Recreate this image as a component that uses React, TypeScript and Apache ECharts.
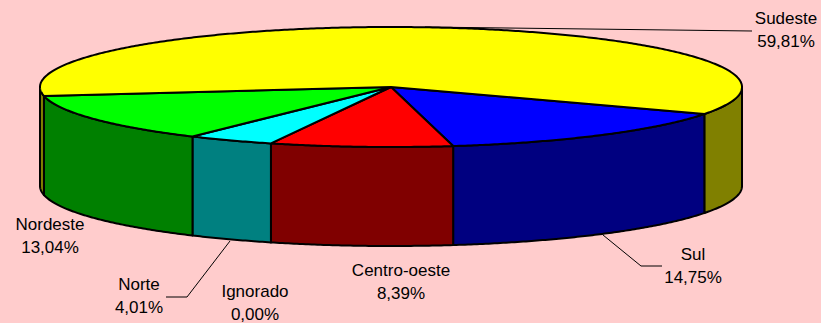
import React, { useEffect, useRef } from "react";
import * as echarts from "echarts";

const categories = ["Sul", "Centro-oeste", "Ignorado", "Norte", "Nordeste", "Sudeste"];
const values = [14.75, 8.39, 0.0, 4.01, 13.04, 59.81];
const topColors = ["#0000FF", "#FF0000", "#FF00FF", "#00FFFF", "#00FF00", "#FFFF00"];
const sideColors = ["#000080", "#800000", "#800080", "#008080", "#008000", "#808000"];

const CX = 391, CY = 87, RX = 351, RY = 60, DEPTH = 99, START = 26.7;
const FONT = "17px 'Liberation Sans', Arial, sans-serif";
const labelPos: [number, number][] = [
  [693, 266], [401, 282], [255, 303], [139, 296], [50, 236], [786, 30],
];
const leaders: [number, number][][] = [
  [[603, 235], [641, 266], [662, 266]],
  [[230, 241], [187, 297], [166, 297]],
  [[425, 27], [752, 31]],
];

const rim = (deg: number, dy = 0): number[] => {
  const t = (deg * Math.PI) / 180;
  return [CX + RX * Math.cos(t), CY + RY * Math.sin(t) + dy];
};
const arc = (a: number, b: number, dy = 0): number[][] => {
  const pts: number[][] = [];
  const n = Math.max(1, Math.ceil(Math.abs(b - a) * 2));
  for (let i = 0; i <= n; i++) pts.push(rim(a + ((b - a) * i) / n, dy));
  return pts;
};
const ranges: [number, number][] = [];
{
  let a = START;
  values.forEach((v) => {
    const b = a + (v / 100) * 360;
    ranges.push([a, b]);
    a = b;
  });
}
// the visible part of the side wall lies on the front half of the ellipse
const frontParts = (a: number, b: number): [number, number][] => {
  const out: [number, number][] = [];
  [[0, 180], [360, 540]].forEach(([lo, hi]) => {
    const s = Math.max(a, lo), e = Math.min(b, hi);
    if (e > s) out.push([s, e]);
  });
  return out;
};

const sideItem = (_p: any, api: any) => {
  const i = api.value(0) as number;
  const children: any[] = [];
  frontParts(ranges[i][0], ranges[i][1]).forEach(([s, e]) => {
    children.push({
      type: "polygon",
      shape: { points: [...arc(s, e), ...arc(e, s, DEPTH)] },
      style: { fill: sideColors[i], stroke: "#000", lineWidth: 2, lineJoin: "round" },
    });
  });
  return { type: "group", children };
};
const topItem = (_p: any, api: any) => {
  const i = api.value(0) as number;
  if (values[i] <= 0) return { type: "group", children: [] };
  return {
    type: "polygon",
    shape: { points: [[CX, CY], ...arc(ranges[i][0], ranges[i][1])] },
    style: { fill: topColors[i], stroke: "#000", lineWidth: 2, lineJoin: "round" },
  };
};

export default function App() {
  const ref = useRef<HTMLDivElement>(null);
  useEffect(() => {
    document.body.style.margin = "0";
    const chart = echarts.init(ref.current!, null, { renderer: "svg" });
    const idx = values.map((_, i) => [i]);
    chart.setOption({
      animation: false,
      backgroundColor: "#FFCCCC",
      series: [
        { type: "custom", coordinateSystem: "none", renderItem: sideItem, data: idx, silent: true, z: 1 },
        { type: "custom", coordinateSystem: "none", renderItem: topItem, data: idx, silent: true, z: 2 },
      ],
      graphic: [
        ...leaders.map((points) => ({
          type: "polyline",
          z: 3,
          shape: { points },
          style: { stroke: "#000", lineWidth: 1, fill: "none" },
        })),
        ...categories.map((c, i) => ({
          type: "text",
          z: 4,
          x: labelPos[i][0],
          y: labelPos[i][1],
          style: {
            text: `${c}\n${values[i].toFixed(2).replace(".", ",")}%`,
            font: FONT,
            fill: "#000",
            align: "center",
            verticalAlign: "middle",
            lineHeight: 22.5,
          },
        })),
      ],
    });
    return () => chart.dispose();
  }, []);
  return <div ref={ref} style={{ width: 821, height: 323 }} />;
}
